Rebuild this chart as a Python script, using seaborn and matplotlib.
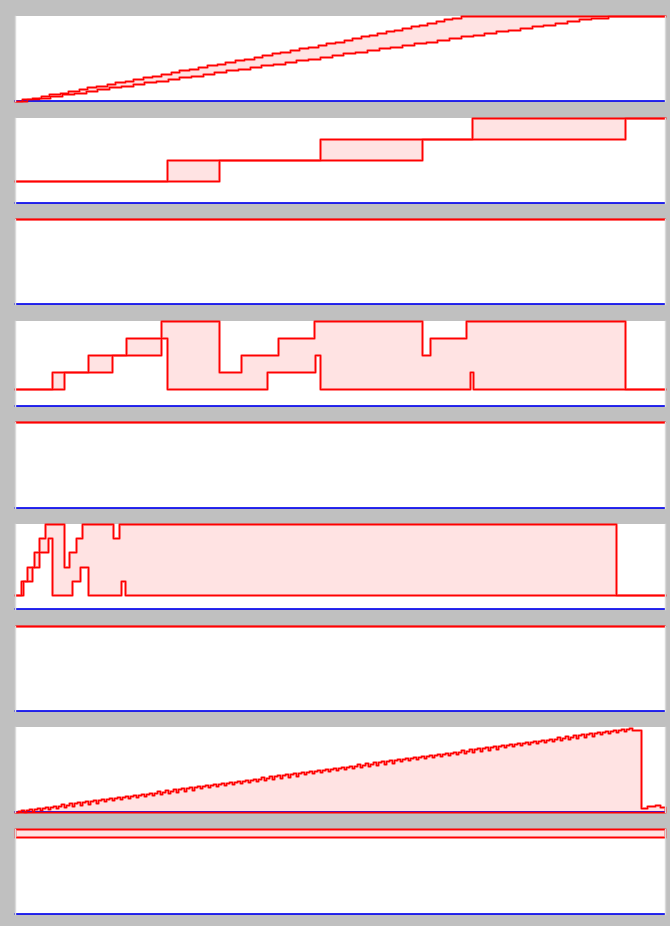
import numpy as np
import pandas as pd
import matplotlib
matplotlib.use("Agg")
import matplotlib.pyplot as plt
import seaborn as sns

# time axis runs 0..650 in every panel
T_END = 650

# panel 1: two staircases climbing to 50
p1_upper_x = [0, 7, 17, 26, 34, 45, 53, 64, 72, 81, 92, 100, 110, 118, 128, 137, 146, 156, 164,
              174, 183, 192, 202, 210, 220, 229, 239, 247, 257, 265, 275, 284, 293, 303, 311,
              320, 329, 337, 346, 354, 362, 371, 379, 387, 396, 404, 412, 421, 429, 437, 446]
p1_upper_y = list(range(0, 51))
p1_lower_x = [0, 12, 24, 35, 47, 59, 71, 82, 94, 106, 118, 129, 141, 153, 164, 176, 188, 199,
              211, 223, 235, 246, 258, 270, 281, 293, 305, 317, 328, 340, 352, 364, 375, 387,
              399, 411, 422, 434, 446, 458, 469, 481, 493, 505, 517, 528, 540, 552, 564, 576, 593]
p1_lower_y = list(range(0, 51))

# panel 2
p2_upper_x = [0, 152, 305, 457]
p2_upper_y = [1, 2, 3, 4]
p2_lower_x = [0, 204, 407, 610]
p2_lower_y = [1, 2, 3, 4]

# panel 4
p4_upper_x = [0, 37, 73, 111, 146, 204, 226, 263, 299, 407, 415, 451, 610]
p4_upper_y = [1, 2, 3, 4, 5, 2, 3, 4, 5, 3, 4, 5, 1]
p4_lower_x = [0, 49, 97, 146, 152, 252, 300, 305, 455, 458]
p4_lower_y = [1, 2, 3, 4, 1, 2, 3, 1, 2, 1]

# panel 6
p6_upper_x = [0, 6, 12, 19, 24, 30, 49, 54, 61, 67, 98, 104, 601]
p6_upper_y = [1, 2, 3, 4, 5, 6, 3, 4, 5, 6, 5, 6, 1]
p6_lower_x = [0, 8, 17, 24, 33, 37, 57, 65, 73, 106, 110]
p6_lower_y = [1, 2, 3, 4, 5, 1, 2, 3, 1, 2, 1]

# panel 8: sawtooth climb, then collapse
p8_tooth_x = [3, 11, 19, 27, 35, 43, 51, 59, 67, 75, 83, 91, 99, 107, 115, 123, 131, 139, 147,
              155, 163, 171, 179, 187, 195, 203, 211, 219, 227, 235, 243, 251, 259, 267, 275,
              283, 291, 299, 307, 315, 323, 331, 339, 347, 355, 363, 371, 379, 387, 395, 403,
              411, 419, 427, 435, 443, 451, 459, 467, 475, 483, 491, 499, 507, 515, 523, 531,
              539, 547, 555, 563, 571, 579, 587, 595, 603, 611]
p8_peak = [2.5, 3.6, 4.7, 5.7, 6.8, 7.9, 9.0, 10.1, 11.1, 12.2, 13.3, 14.4, 15.5, 16.5, 17.6,
           18.7, 19.8, 20.9, 21.9, 23.0, 24.1, 25.2, 26.3, 27.3, 28.4, 29.5, 30.6, 31.7, 32.7,
           33.8, 34.9, 36.0, 37.1, 38.1, 39.2, 40.3, 41.4, 42.5, 43.5, 44.6, 45.7, 46.8, 47.9,
           48.9, 50.0, 51.1, 52.2, 53.3, 54.3, 55.4, 56.5, 57.6, 58.7, 59.7, 60.8, 61.9, 63.0,
           64.1, 65.1, 66.2, 67.3, 68.4, 69.5, 70.5, 71.6, 72.7, 73.8, 74.9, 75.9, 77.0, 78.1,
           79.2, 80.3, 81.3, 82.4, 83.5, 84.6]
p8_tail_x = [618, 626, 632, 640, 645, 650]
p8_tail_y = [82.0, 4.7, 6.0, 7.3, 5.0, 1.0]

# panel 9
p9_upper_x, p9_upper_y = [0], [11]
p9_lower_x, p9_lower_y = [0], [10]


def build_p8():
    # each tooth: half rise, peak, drop
    xs, ys = [0], [0.0]
    for tx, pk in zip(p8_tooth_x, p8_peak):
        xs += [tx, tx + 3, tx + 6]
        ys += [pk - 1.2, pk, pk - 2.4]
    xs += p8_tail_x
    ys += p8_tail_y
    return xs, ys


p8_x, p8_y = build_p8()

panels = [
    (p1_upper_x, p1_upper_y, p1_lower_x, p1_lower_y, 50),
    (p2_upper_x, p2_upper_y, p2_lower_x, p2_lower_y, 4),
    ([0], [1], [0], [1], 1),
    (p4_upper_x, p4_upper_y, p4_lower_x, p4_lower_y, 5),
    ([0], [1], [0], [1], 1),
    (p6_upper_x, p6_upper_y, p6_lower_x, p6_lower_y, 6),
    ([0], [1], [0], [1], 1),
    (p8_x, p8_y, [0], [0], 85),
    (p9_upper_x, p9_upper_y, p9_lower_x, p9_lower_y, 11),
]


def on_grid(xs, ys, grid):
    idx = np.searchsorted(np.asarray(xs, float), grid, side="right") - 1
    return np.asarray(ys, float)[np.clip(idx, 0, None)]


sns.set_style("white")
W, H = 670, 926
fig = plt.figure(figsize=(W / 100, H / 100), dpi=100, facecolor="#c0c0c0")

for k, (ux, uy, lx, ly, ymax) in enumerate(panels):
    top = 16 + 101.625 * k
    ax = fig.add_axes([15 / W, 1 - (top + 85) / H, 650 / W, 85 / H])
    ax.set_facecolor("white")

    grid = np.unique(np.concatenate([ux, lx, [T_END]]).astype(float))
    up = on_grid(ux, uy, grid)
    lo = on_grid(lx, ly, grid)
    ax.fill_between(grid, lo, up, step="post", facecolor="#ffe3e3",
                    edgecolor=(1, 0, 0, 0.4), linewidth=2, clip_on=False)

    for xs, ys in ((ux, uy), (lx, ly)):
        df = pd.DataFrame({"t": list(xs) + [T_END], "v": list(ys) + [ys[-1]]})
        sns.lineplot(data=df, x="t", y="v", ax=ax, color="red", linewidth=1,
                     drawstyle="steps-post", estimator=None, sort=False, clip_on=False)

    ax.axhline(0, color="#0000ee", linewidth=1.2, clip_on=False, zorder=1)
    ax.set_xlim(0, T_END)
    ax.set_ylim(0, ymax)
    ax.set_xticks([])
    ax.set_yticks([])
    ax.set_xlabel("")
    ax.set_ylabel("")
    for side in ("top", "bottom"):
        ax.spines[side].set_visible(False)
    for side in ("left", "right"):
        ax.spines[side].set_color("#dadada")
        ax.spines[side].set_linewidth(1)

fig.savefig("out.png", dpi=100, facecolor=fig.get_facecolor())
